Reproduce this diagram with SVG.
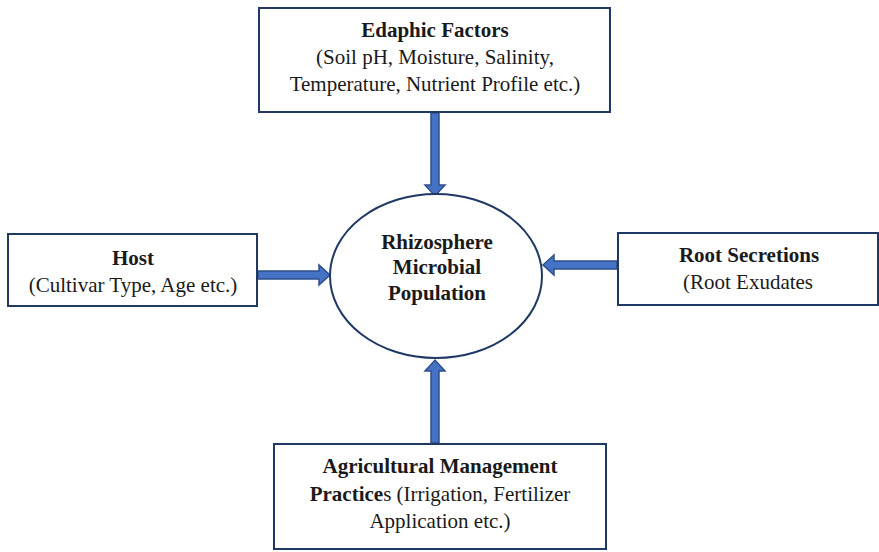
<svg xmlns="http://www.w3.org/2000/svg" width="879" height="552" viewBox="0 0 879 552">
<style>
.box{fill:#fff;stroke:#1f3864;stroke-width:2}
.arr{fill:#4472c4;stroke:#2f4f8a;stroke-width:1.5;stroke-linejoin:miter}
text{font-family:"Liberation Serif","Times New Roman",serif;font-size:21px;fill:#1a1a1a;text-anchor:middle}
.b{font-weight:bold}
</style>
<rect width="879" height="552" fill="#fff"/>
<g id="connectors">
<path class="arr" d="M431,113 H439 V185 H445 L435,196 L425,185 H431 Z"/>
<path class="arr" d="M258,271 H319 V265 L330,275 L319,285 V279 H258 Z"/>
<path class="arr" d="M617,261 H554 V255 L543,265 L554,275 V269 H617 Z"/>
<path class="arr" d="M431,443 H439 V371 H445 L435,360 L425,371 H431 Z"/>
</g>
<g id="edaphic">
<rect class="box" x="259" y="8" width="351" height="104"/>
<text class="b" x="435" y="37">Edaphic Factors</text>
<text x="435" y="64">(Soil pH, Moisture, Salinity,</text>
<text x="435" y="91">Temperature, Nutrient Profile etc.)</text>
</g>
<g id="host">
<rect class="box" x="8" y="234" width="249" height="72"/>
<text class="b" x="133" y="265">Host</text>
<text x="133" y="292">(Cultivar Type, Age etc.)</text>
</g>
<g id="rhizosphere">
<ellipse cx="436" cy="276" rx="106" ry="82" fill="#fff" stroke="#1f3864" stroke-width="2"/>
<text class="b" x="437" y="249">Rhizosphere</text>
<text class="b" x="437" y="274">Microbial</text>
<text class="b" x="437" y="300">Population</text>
</g>
<g id="root">
<rect class="box" x="618" y="233" width="260" height="72"/>
<text class="b" x="749" y="262">Root Secretions</text>
<text x="748" y="289">(Root Exudates</text>
</g>
<g id="agri">
<rect class="box" x="274" y="444" width="332" height="105"/>
<text class="b" x="440" y="473">Agricultural Management</text>
<text x="440" y="501"><tspan class="b">Practice</tspan>s (Irrigation, Fertilizer</text>
<text x="440" y="528">Application etc.)</text>
</g>
</svg>
